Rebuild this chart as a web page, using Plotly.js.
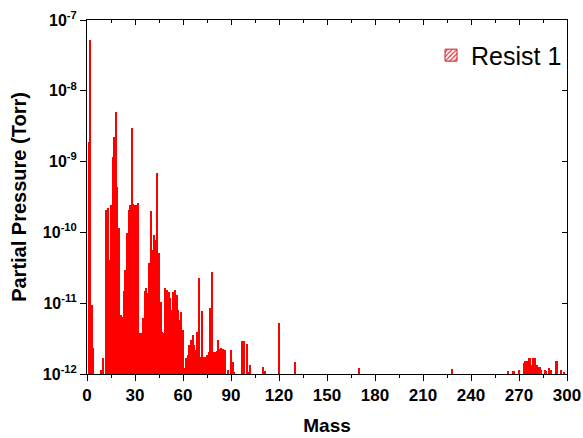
<!DOCTYPE html>
<html>
<head>
<meta charset="utf-8">
<script src="https://cdn.plot.ly/plotly-3.0.1.min.js"></script>
<style>html,body{margin:0;padding:0;background:#fff;}#chart{width:583px;height:438px;}</style>
</head>
<body>
<div id="chart"></div>
<script>
const masses = [1,2,3,4,9,10,12,13,14,15,16,17,18,19,20,21,22,23,24,25,26,27,28,29,30,31,32,33,34,35,36,37,38,39,40,41,42,43,44,45,46,47,48,49,50,51,52,53,54,55,56,57,58,59,60,61,62,63,64,65,66,67,68,69,70,71,72,73,74,75,76,77,78,79,80,81,82,83,84,85,86,88,90,91,92,97,98,100,101,102,110,111,120,130,170,228,263,266,267,270,273,274,275,276,277,278,279,280,281,282,283,284,286,287,289,290,293,294,296,298];
const pressures = [1.9e-9,5.2e-8,9.4e-12,2.3e-12,1.14e-12,1.7e-12,2.1e-10,2.2e-10,4.1e-11,2.4e-10,1.16e-9,2.2e-9,5.0e-9,4.4e-10,1.15e-10,6.8e-12,6.4e-12,1.5e-11,2.9e-11,9.8e-11,2.1e-10,2.4e-10,3.0e-9,2.5e-10,2.4e-10,2.4e-10,2.6e-10,3.8e-12,3.8e-12,6.2e-12,1.5e-11,1.64e-11,1.4e-11,3.7e-11,2.0e-10,5.6e-11,9.2e-11,7.8e-11,6.9e-10,5.1e-11,1.04e-11,3.9e-12,3.8e-12,1.64e-11,1.54e-11,1.45e-11,1.18e-11,8.0e-12,1.45e-11,1.54e-11,1.31e-11,8.0e-12,5.8e-12,7.5e-12,4.2e-12,1.22e-12,1.68e-12,1.86e-12,2.57e-12,3.0e-12,3.56e-12,2.57e-12,2.18e-12,3.9e-12,2.3e-11,1.74e-12,7.8e-12,1.74e-12,1.74e-12,1.86e-12,2.05e-12,8.6e-12,2.76e-11,2.05e-12,2.05e-12,2.1e-12,3.0e-12,2.25e-12,2.33e-12,2.25e-12,2.18e-12,1.14e-12,2.18e-12,1.48e-12,1.07e-12,2.9e-12,2.9e-12,2.65e-12,1.07e-12,1.34e-12,1.26e-12,1.1e-12,5.25e-12,1.48e-12,1.22e-12,1.19e-12,1.1e-12,1.1e-12,1.1e-12,1.14e-12,1.43e-12,1.53e-12,1.53e-12,1.68e-12,1.68e-12,1.34e-12,1.68e-12,1.68e-12,1.36e-12,1.26e-12,1.26e-12,1.14e-12,1.14e-12,1.1e-12,1.22e-12,1.14e-12,1.53e-12,1.53e-12,1.14e-12,1.07e-12];
const seriesName = "Resist 1";
const xTickVals = [0,30,60,90,120,150,180,210,240,270,300];
const yTickVals = [1e-12,1e-11,1e-10,1e-9,1e-8,1e-7];
const yTickText = ["10<sup>-12</sup>","10<sup>-11</sup>","10<sup>-10</sup>","10<sup>-9</sup>","10<sup>-8</sup>","10<sup>-7</sup>"];

const FONT = "Liberation Sans, Arial, sans-serif";
const traces = [
  {type:'bar', x:masses, y:pressures, width:1.15, showlegend:false,
   marker:{color:'#ff0000', line:{width:0}}},
  {type:'bar', x:[null], y:[null], name:seriesName, showlegend:true, xaxis:'x2', yaxis:'y2',
   marker:{color:'#ffffff', line:{color:'#d02020', width:1},
           pattern:{shape:'/', fgcolor:'#e02020', bgcolor:'#ffffff', size:4, solidity:0.35}}}
];
const axisCommon = {showline:true, linecolor:'#000', linewidth:1, showgrid:false, zeroline:false,
  automargin:false, tickcolor:'#000'};
const layout = {
  width:583, height:438,
  margin:{l:87, r:16, t:20, b:64},
  paper_bgcolor:'#fff', plot_bgcolor:'#fff',
  bargap:0, barmode:'overlay',
  showlegend:true,
  legend:{x:1.0, y:0.9, xanchor:'right', yanchor:'middle', bgcolor:'rgba(0,0,0,0)',
    font:{family:FONT, size:25, color:'#000'}, itemwidth:30},
  xaxis:Object.assign({}, axisCommon, {range:[0,300], tickvals:xTickVals, ticks:'outside', ticklen:6,
    tickfont:{family:FONT, size:17, color:'#000', weight:'bold'},
    minor:{ticks:'outside', ticklen:3, dtick:15, tick0:0, tickcolor:'#000'},
    title:{text:'<b>Mass</b>', font:{family:FONT, size:19, color:'#000'}, standoff:14}}),
  yaxis:Object.assign({}, axisCommon, {type:'log', range:[-12,-7], tickvals:yTickVals, ticktext:yTickText,
    ticks:'outside', ticklen:6,
    tickfont:{family:FONT, size:16, color:'#000', weight:'bold'},
    title:{text:'<b>Partial Pressure (Torr)</b>', font:{family:FONT, size:20, color:'#000'}, standoff:10}}),
  xaxis2:{overlaying:'x', side:'top', anchor:'y2', range:[0,300], showline:true, linecolor:'#000', linewidth:1,
    showgrid:false, zeroline:false, tickvals:xTickVals, ticks:'inside', ticklen:5, showticklabels:false,
    tickcolor:'#000', minor:{ticks:'inside', ticklen:3, dtick:15, tick0:0, tickcolor:'#000'}},
  yaxis2:{overlaying:'y', side:'right', anchor:'x2', type:'log', range:[-12,-7], showline:true, linecolor:'#000',
    linewidth:1, showgrid:false, zeroline:false, tickvals:yTickVals, ticks:'inside', ticklen:5,
    tickcolor:'#000', showticklabels:false}
};
Plotly.newPlot('chart', traces, layout, {displayModeBar:false, staticPlot:true});
</script>
</body>
</html>
